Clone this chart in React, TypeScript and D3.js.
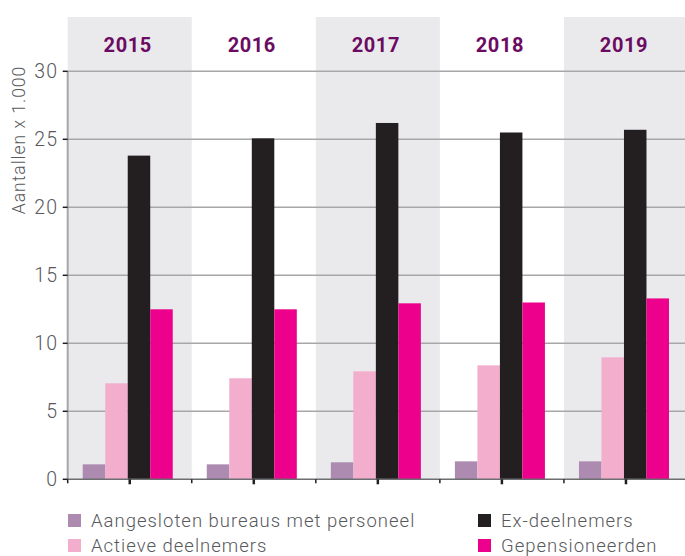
import React from "react";
import * as d3 from "d3";

const years = ["2015", "2016", "2017", "2018", "2019"];
const seriesNames = [
  "Aangesloten bureaus met personeel",
  "Actieve deelnemers",
  "Ex-deelnemers",
  "Gepensioneerden",
];
const seriesColors = ["#ad8ab0", "#f3aece", "#231f20", "#ec008c"];
const bureaus = [1.1, 1.1, 1.25, 1.32, 1.32];
const actief = [7.06, 7.43, 7.94, 8.38, 8.97];
const exDeelnemers = [23.8, 25.07, 26.2, 25.5, 25.7];
const gepensioneerden = [12.5, 12.5, 12.94, 13.0, 13.3];
const yTicks = [0, 5, 10, 15, 20, 25, 30];
const yLabel = "Aantallen x 1.000";

const W = 685;
const H = 556;
const left = 67.7;
const right = 688;
const y0 = 479.3;
const yTop = 71.3;
const bandTop = 17;

export default function App() {
  const series = [bureaus, actief, exDeelnemers, gepensioneerden];
  const x = d3.scaleBand<string>().domain(years).range([left, right]).padding(0);
  const y = d3.scaleLinear().domain([0, 30]).range([y0, yTop]);
  const bw = x.bandwidth();
  const inner = d3
    .scaleBand<number>()
    .domain(d3.range(series.length))
    .range([-2, bw - 2])
    .paddingInner(0)
    .paddingOuter(0.756);
  const font = "Roboto, 'DejaVu Sans', sans-serif";
  const textCol = "#58595b";

  return (
    <svg
      width={W}
      height={H}
      style={{ position: "absolute", left: 0, top: 0, display: "block" }}
    >
      <rect x={0} y={0} width={W} height={H} fill="#fff" />
      {years.map((yr, i) =>
        i % 2 === 0 ? (
          <rect
            key={"bg" + yr}
            x={x(yr)}
            y={bandTop}
            width={bw}
            height={y0 - bandTop}
            fill="#eaeaed"
          />
        ) : null
      )}
      {yTicks
        .filter((t) => t > 0)
        .map((t) => (
          <line
            key={"g" + t}
            x1={left}
            x2={W}
            y1={y(t)}
            y2={y(t)}
            stroke="#a7a7a9"
            strokeWidth={1.5}
          />
        ))}
      {years.map((yr) => (
        <text
          key={"yr" + yr}
          x={(x(yr) as number) + bw / 2 - 2}
          y={51.5}
          textAnchor="middle"
          fontFamily={font}
          fontWeight={700}
          fontSize={20}
          fill="#6c0b62"
          letterSpacing={0.6}
        >
          {yr}
        </text>
      ))}
      {years.map((yr, i) =>
        series.map((s, k) => (
          <rect
            key={"b" + yr + k}
            x={(x(yr) as number) + (inner(k) as number)}
            y={y(s[i])}
            width={inner.bandwidth()}
            height={y0 - y(s[i])}
            fill={seriesColors[k]}
          />
        ))
      )}
      {/* y axis */}
      <line x1={left} x2={left} y1={yTop} y2={y0} stroke="#a7a7a9" strokeWidth={2} />
      {yTicks.map((t) => (
        <g key={"yt" + t}>
          <line x1={left - 5} x2={left} y1={y(t)} y2={y(t)} stroke="#231f20" strokeWidth={1.5} />
          <text
            x={58}
            y={y(t)}
            dy="0.36em"
            textAnchor="end"
            fontFamily={font}
            fontWeight={300}
            fontSize={19.5}
            fill={textCol}
            letterSpacing={1}
          >
            {t}
          </text>
        </g>
      ))}
      {/* x axis */}
      <line x1={left} x2={W} y1={y0} y2={y0} stroke="#6d6e71" strokeWidth={1.5} />
      {years.map((yr) => (
        <g key={"xt" + yr}>
          <line
            x1={x(yr)}
            x2={x(yr)}
            y1={y0}
            y2={y0 + 4}
            stroke="#231f20"
            strokeWidth={1.5}
          />
          <line
            x1={(x(yr) as number) + bw / 2}
            x2={(x(yr) as number) + bw / 2}
            y1={y0}
            y2={y0 + 5}
            stroke="#231f20"
            strokeWidth={2.5}
          />
        </g>
      ))}
      <text
        transform={`translate(25,${140}) rotate(-90)`}
        textAnchor="middle"
        fontFamily={font}
        fontWeight={300}
        fontSize={17.5}
        fill={textCol}
        letterSpacing={1}
      >
        {yLabel}
      </text>
      {/* legend */}
      {seriesNames.map((n, k) => {
        const col = k === 0 || k === 1 ? 0 : 1;
        const row = k === 0 || k === 2 ? 0 : 1;
        const lx = col === 0 ? 68 : 478;
        const ly = 514 + row * 25;
        return (
          <g key={"lg" + k}>
            <rect x={lx} y={ly} width={13} height={13} fill={seriesColors[k]} />
            <text
              x={lx + 23}
              y={ly + 6.5}
              dy="0.36em"
              fontFamily={font}
              fontWeight={300}
              fontSize={18.5}
              fill={textCol}
              letterSpacing={1}
            >
              {n}
            </text>
          </g>
        );
      })}
    </svg>
  );
}
